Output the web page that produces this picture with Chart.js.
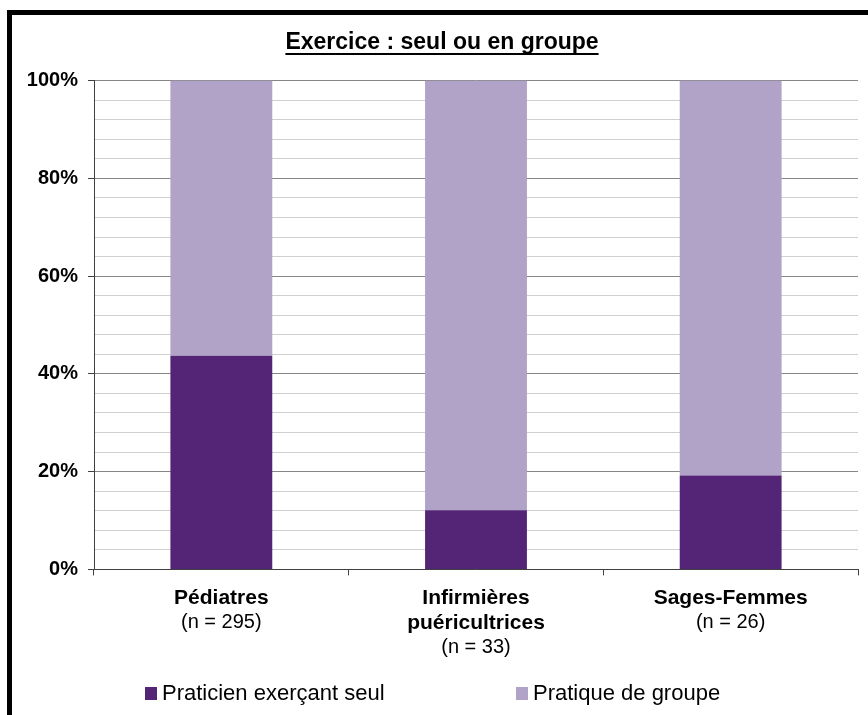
<!DOCTYPE html>
<html>
<head>
<meta charset="utf-8">
<script src="https://cdn.jsdelivr.net/npm/chart.js@4.4.1/dist/chart.umd.min.js"></script>
<style>
  html, body { margin: 0; padding: 0; background: #fff; }
  #frame { position: absolute; left: 7px; top: 10px; width: 900px; height: 800px;
           border-top: 5px solid #000; border-left: 5px solid #000; }
  #wrap { position: absolute; left: 0; top: 0; width: 868px; height: 715px; }
</style>
</head>
<body>
<div id="frame"></div>
<div id="wrap"><canvas id="myChart" width="868" height="715"></canvas></div>
<script>
const categories = ["Pédiatres", "Infirmières puéricultrices", "Sages-Femmes"];
const categoryLines = [["Pédiatres"], ["Infirmières", "puéricultrices"], ["Sages-Femmes"]];
const sampleSizes = ["(n = 295)", "(n = 33)", "(n = 26)"];
const seul = [43.7, 12.1, 19.2];
const groupe = [56.3, 87.9, 80.8];
const seriesNames = ["Praticien exerçant seul", "Pratique de groupe"];
const seriesColors = ["#542577", "#b1a2c8"];

const FONT = "'Liberation Sans', Arial, sans-serif";

// x labels: bold name lines then the (n = ...) line in regular weight
const xLabelPlugin = {
  id: "xLabels",
  afterDraw(chart) {
    const sc = chart.scales.x;
    const ctx = chart.ctx;
    const lineH = 25;
    ctx.save();
    ctx.fillStyle = "#000";
    ctx.textAlign = "center";
    ctx.textBaseline = "middle";
    categoryLines.forEach((lines, i) => {
      const x = sc.getPixelForTick(i);
      let y = sc.top + 6 + 10 + lineH / 2;
      ctx.font = "bold 21px " + FONT;
      lines.forEach(l => { ctx.fillText(l, x, y); y += lineH; });
      ctx.font = "20px " + FONT;
      ctx.fillText(sampleSizes[i], x, y);
    });
    ctx.restore();
  }
};

// underline under the title
const underlinePlugin = {
  id: "underline",
  afterDraw(chart) {
    const tb = chart.titleBlock;
    const ctx = chart.ctx;
    ctx.save();
    ctx.font = "bold 23px " + FONT;
    const w = ctx.measureText(tb.options.text).width;
    const cx = (tb.left + tb.right) / 2;
    const y = tb.top + tb.options.padding.top + 25;
    ctx.strokeStyle = "#000";
    ctx.lineWidth = 2;
    ctx.beginPath();
    ctx.moveTo(cx - w / 2, y);
    ctx.lineTo(cx + w / 2, y);
    ctx.stroke();
    ctx.restore();
  }
};

// legend laid out like the source (wide gap between the two entries)
const legendX = [145, 516];
const legendPlugin = {
  id: "wideLegend",
  afterDraw(chart) {
    const ctx = chart.ctx;
    const y = 694;
    ctx.save();
    ctx.font = "22px " + FONT;
    ctx.textBaseline = "middle";
    ctx.textAlign = "left";
    chart.data.datasets.forEach((ds, i) => {
      ctx.fillStyle = ds.backgroundColor;
      ctx.fillRect(legendX[i], y - 7, 12, 13);
      ctx.fillStyle = "#000";
      ctx.fillText(ds.label, legendX[i] + 17, y);
    });
    ctx.restore();
  }
};

const data01 = {
  labels: categories,
  datasets: [
    { label: seriesNames[0], data: seul, backgroundColor: seriesColors[0] },
    { label: seriesNames[1], data: groupe, backgroundColor: seriesColors[1] },
  ],
};

const config01 = {
  type: "bar",
  data: data01,
  options: {
    responsive: false,
    animation: false,
    datasets: { bar: { barPercentage: 0.4, categoryPercentage: 1 } },
    layout: { padding: { left: 26, right: 10, top: 0, bottom: 44 } },
    scales: {
      x: {
        stacked: true,
        grid: { offset: true, drawOnChartArea: false, tickLength: 6, color: "#404040" },
        border: { color: "#404040" },
        ticks: {
          color: "rgba(0,0,0,0)",
          padding: 10,
          font: { family: FONT, size: 21, weight: "bold", lineHeight: 1.2 },
          callback: (v, i) => categoryLines[i].concat([sampleSizes[i]]),
        },
      },
      y: {
        stacked: true,
        min: 0,
        max: 100,
        afterFit: (s) => { s.width = 68; },
        border: { color: "#404040" },
        grid: {
          tickLength: 6,
          color: (c) => (c.tick && c.tick.value % 20 === 0 ? "#868686" : "#d0d0d0"),
          tickColor: (c) => (c.tick && c.tick.value % 20 === 0 ? "#404040" : "rgba(0,0,0,0)"),
        },
        ticks: {
          stepSize: 4,
          autoSkip: false,
          padding: 10,
          color: "#000",
          font: { family: FONT, size: 20, weight: "bold" },
          callback: (v) => (v % 20 === 0 ? v + "%" : ""),
        },
      },
    },
    plugins: {
      title: {
        display: true,
        text: "Exercice : seul ou en groupe",
        color: "#000",
        font: { family: FONT, size: 23, weight: "bold", lineHeight: 1.2 },
        padding: { top: 29, bottom: 24 },
      },
      legend: { display: false },
      tooltip: { enabled: false },
    },
  },
  plugins: [xLabelPlugin, underlinePlugin, legendPlugin],
};

const chart01 = new Chart(document.getElementById("myChart"), config01);
</script>
</body>
</html>
